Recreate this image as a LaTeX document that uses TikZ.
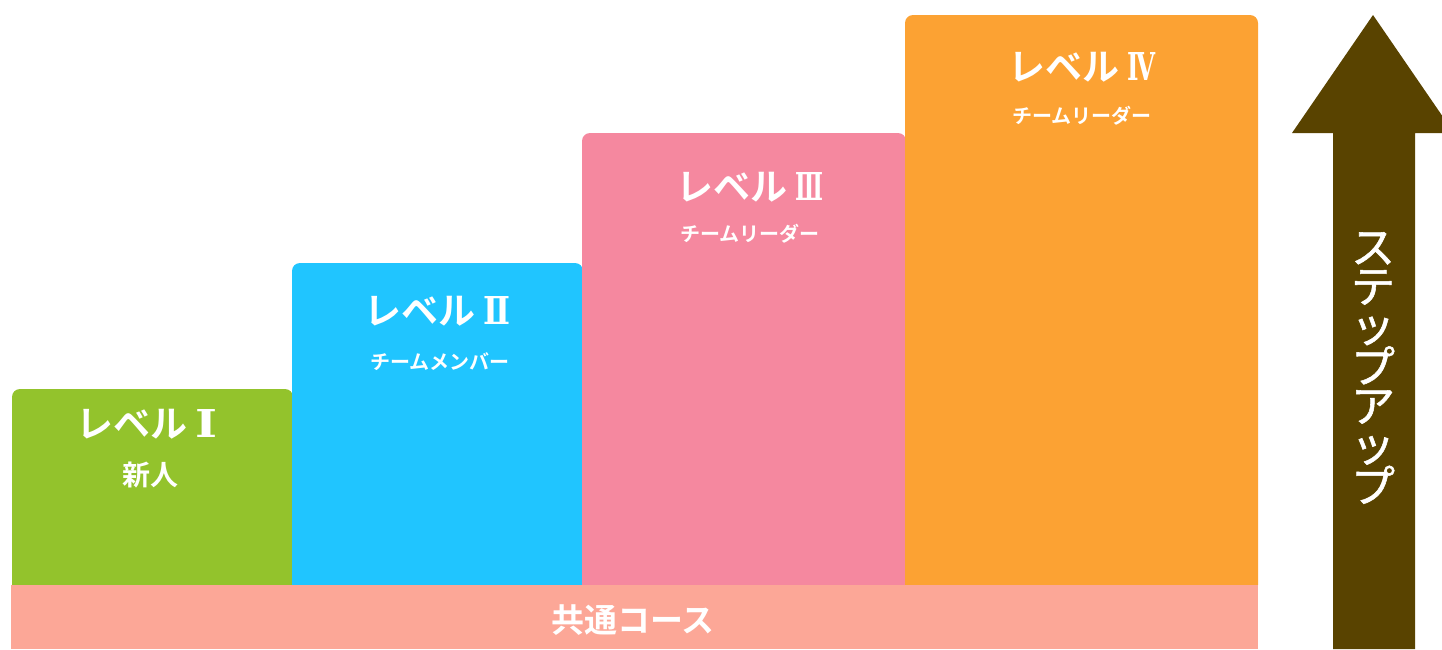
\documentclass[tikz,border=0pt]{standalone}
\usepackage{fontspec}
\usepackage{graphicx}
\newfontfamily\jp{Noto Sans CJK JP}[BoldFont={Noto Sans CJK JP Bold}]
\newfontfamily\jpv{Noto Sans CJK JP}[FakeBold=1.2]
\newfontfamily\dvs{DejaVu Serif}
\newcommand\rnum[2]{\hspace{8pt}\resizebox{#1}{28pt}{\dvs\bfseries #2}}
\definecolor{lvA}{HTML}{93C32C}
\definecolor{lvB}{HTML}{20C5FF}
\definecolor{lvC}{HTML}{F5889F}
\definecolor{lvD}{HTML}{FCA233}
\definecolor{band}{HTML}{FCA797}
\definecolor{arrowc}{HTML}{594300}
\begin{document}
\begin{tikzpicture}[x=1pt,y=-1pt,
  title/.style={text=white,inner sep=0pt,font=\jp\bfseries\fontsize{37}{37}\selectfont},
  sub/.style={text=white,inner sep=0pt,font=\jp\bfseries\fontsize{20}{20}\selectfont},
  bandtext/.style={text=white,inner sep=0pt,font=\jp\bfseries\fontsize{33}{33}\selectfont},
  vtext/.style={text=white,inner sep=0pt,align=center,font=\jpv\fontsize{44}{39.3}\selectfont}]
\useasboundingbox (0,0) rectangle (1442,649);
% level boxes
\fill[lvA] (12,585) [rounded corners=8pt] -- (12,389) -- (293,389) [sharp corners] -- (293,585) -- cycle;
\fill[lvB] (292,585) [rounded corners=8pt] -- (292,263) -- (583,263) [sharp corners] -- (583,585) -- cycle;
\fill[lvC] (582,585) [rounded corners=8pt] -- (582,133) -- (906,133) [sharp corners] -- (906,585) -- cycle;
\fill[lvD] (905,585) [rounded corners=8pt] -- (905,15) -- (1258,15) [sharp corners] -- (1258,585) -- cycle;
% common band
\fill[band] (11,585) rectangle (1258,649);
% arrow
\begin{scope}
\clip (0,0) rectangle (1442,649);
\fill[arrowc] (1333,649) -- (1333,133) -- (1292,133) -- (1373,15) -- (1454,133) -- (1415,133) -- (1415,649) -- cycle;
\end{scope}
% texts
\node[title] (t1) at (147,424) {レベル\rnum{22pt}{Ⅰ}};
\node[sub,font=\jp\bfseries\fontsize{28}{28}\selectfont] (s1) at (150,475) {新人};
\node[title] (t2) at (437,311) {レベル\rnum{27pt}{Ⅱ}};
\node[sub] (s2) at (440,362) {チームメンバー};
\node[title] (t3) at (750,187) {レベル\rnum{28pt}{Ⅲ}};
\node[sub] (s3) at (750,234) {チームリーダー};
\node[title] (t4) at (1082,67) {レベル\rnum{28pt}{Ⅳ}};
\node[sub] (s4) at (1082,116) {チームリーダー};
\node[bandtext] (b) at (633,620) {共通コース};
% vertical text
\node[vtext] (v) at (1373,368) {ス\\テ\\ッ\\プ\\ア\\ッ\\プ};
\end{tikzpicture}
\end{document}
